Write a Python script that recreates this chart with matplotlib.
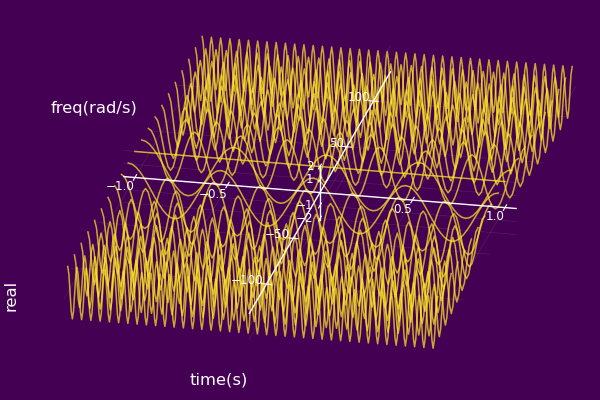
import matplotlib
matplotlib.use("Agg")
import matplotlib.pyplot as plt
import numpy as np
from mpl_toolkits.mplot3d import proj3d

# values: every wave swings +-2, ends on a peak at t=+-1,
# and its number of periods was counted. Lists run from t=0 to t=1, the left half mirrors them.
freqs = [-125.66, -113.10, -100.53, -87.96, -75.40, -62.83, -50.27, -37.70, -25.13, -12.57, 0,
         12.57, 25.13, 37.70, 50.27, 62.83, 75.40, 87.96, 100.53, 113.10, 125.66]

wave_0 = [2, 2]

wave_13 = [
    2, 1.93, 1.73, 1.41, 1, .52, 0, -.52, -1, -1.41, -1.73, -1.93, -2, -1.93, -1.73, -1.41, -1, -.52, 0, .52, 1, 1.41, 1.73, 1.93,
    2, 1.93, 1.73, 1.41, 1, .52, 0, -.52, -1, -1.41, -1.73, -1.93, -2, -1.93, -1.73, -1.41, -1, -.52, 0, .52, 1, 1.41, 1.73, 1.93,
    2]

wave_25 = [
    2, 1.85, 1.41, .77, 0, -.77, -1.41, -1.85, -2, -1.85, -1.41, -.77, 0, .77, 1.41, 1.85,
    2, 1.85, 1.41, .77, 0, -.77, -1.41, -1.85, -2, -1.85, -1.41, -.77, 0, .77, 1.41, 1.85,
    2, 1.85, 1.41, .77, 0, -.77, -1.41, -1.85, -2, -1.85, -1.41, -.77, 0, .77, 1.41, 1.85,
    2, 1.85, 1.41, .77, 0, -.77, -1.41, -1.85, -2, -1.85, -1.41, -.77, 0, .77, 1.41, 1.85,
    2]

wave_38 = [
    2, 1.73, 1, 0, -1, -1.73, -2, -1.73, -1, 0, 1, 1.73,
    2, 1.73, 1, 0, -1, -1.73, -2, -1.73, -1, 0, 1, 1.73,
    2, 1.73, 1, 0, -1, -1.73, -2, -1.73, -1, 0, 1, 1.73,
    2, 1.73, 1, 0, -1, -1.73, -2, -1.73, -1, 0, 1, 1.73,
    2, 1.73, 1, 0, -1, -1.73, -2, -1.73, -1, 0, 1, 1.73,
    2, 1.73, 1, 0, -1, -1.73, -2, -1.73, -1, 0, 1, 1.73,
    2]

wave_50 = [
    2, 1.62, .62, -.62, -1.62, -2, -1.62, -.62, .62, 1.62,
    2, 1.62, .62, -.62, -1.62, -2, -1.62, -.62, .62, 1.62,
    2, 1.62, .62, -.62, -1.62, -2, -1.62, -.62, .62, 1.62,
    2, 1.62, .62, -.62, -1.62, -2, -1.62, -.62, .62, 1.62,
    2, 1.62, .62, -.62, -1.62, -2, -1.62, -.62, .62, 1.62,
    2, 1.62, .62, -.62, -1.62, -2, -1.62, -.62, .62, 1.62,
    2, 1.62, .62, -.62, -1.62, -2, -1.62, -.62, .62, 1.62,
    2, 1.62, .62, -.62, -1.62, -2, -1.62, -.62, .62, 1.62,
    2]

wave_63 = [
    2, 1.41, 0, -1.41, -2, -1.41, 0, 1.41,
    2, 1.41, 0, -1.41, -2, -1.41, 0, 1.41,
    2, 1.41, 0, -1.41, -2, -1.41, 0, 1.41,
    2, 1.41, 0, -1.41, -2, -1.41, 0, 1.41,
    2, 1.41, 0, -1.41, -2, -1.41, 0, 1.41,
    2, 1.41, 0, -1.41, -2, -1.41, 0, 1.41,
    2, 1.41, 0, -1.41, -2, -1.41, 0, 1.41,
    2, 1.41, 0, -1.41, -2, -1.41, 0, 1.41,
    2, 1.41, 0, -1.41, -2, -1.41, 0, 1.41,
    2, 1.41, 0, -1.41, -2, -1.41, 0, 1.41,
    2]

wave_75 = [
    2, 1.41, 0, -1.41, -2, -1.41, 0, 1.41,
    2, 1.41, 0, -1.41, -2, -1.41, 0, 1.41,
    2, 1.41, 0, -1.41, -2, -1.41, 0, 1.41,
    2, 1.41, 0, -1.41, -2, -1.41, 0, 1.41,
    2, 1.41, 0, -1.41, -2, -1.41, 0, 1.41,
    2, 1.41, 0, -1.41, -2, -1.41, 0, 1.41,
    2, 1.41, 0, -1.41, -2, -1.41, 0, 1.41,
    2, 1.41, 0, -1.41, -2, -1.41, 0, 1.41,
    2, 1.41, 0, -1.41, -2, -1.41, 0, 1.41,
    2, 1.41, 0, -1.41, -2, -1.41, 0, 1.41,
    2, 1.41, 0, -1.41, -2, -1.41, 0, 1.41,
    2, 1.41, 0, -1.41, -2, -1.41, 0, 1.41,
    2]

wave_88 = [
    2, 1.41, 0, -1.41, -2, -1.41, 0, 1.41,
    2, 1.41, 0, -1.41, -2, -1.41, 0, 1.41,
    2, 1.41, 0, -1.41, -2, -1.41, 0, 1.41,
    2, 1.41, 0, -1.41, -2, -1.41, 0, 1.41,
    2, 1.41, 0, -1.41, -2, -1.41, 0, 1.41,
    2, 1.41, 0, -1.41, -2, -1.41, 0, 1.41,
    2, 1.41, 0, -1.41, -2, -1.41, 0, 1.41,
    2, 1.41, 0, -1.41, -2, -1.41, 0, 1.41,
    2, 1.41, 0, -1.41, -2, -1.41, 0, 1.41,
    2, 1.41, 0, -1.41, -2, -1.41, 0, 1.41,
    2, 1.41, 0, -1.41, -2, -1.41, 0, 1.41,
    2, 1.41, 0, -1.41, -2, -1.41, 0, 1.41,
    2, 1.41, 0, -1.41, -2, -1.41, 0, 1.41,
    2, 1.41, 0, -1.41, -2, -1.41, 0, 1.41,
    2]

wave_101 = [
    2, 1.41, 0, -1.41, -2, -1.41, 0, 1.41,
    2, 1.41, 0, -1.41, -2, -1.41, 0, 1.41,
    2, 1.41, 0, -1.41, -2, -1.41, 0, 1.41,
    2, 1.41, 0, -1.41, -2, -1.41, 0, 1.41,
    2, 1.41, 0, -1.41, -2, -1.41, 0, 1.41,
    2, 1.41, 0, -1.41, -2, -1.41, 0, 1.41,
    2, 1.41, 0, -1.41, -2, -1.41, 0, 1.41,
    2, 1.41, 0, -1.41, -2, -1.41, 0, 1.41,
    2, 1.41, 0, -1.41, -2, -1.41, 0, 1.41,
    2, 1.41, 0, -1.41, -2, -1.41, 0, 1.41,
    2, 1.41, 0, -1.41, -2, -1.41, 0, 1.41,
    2, 1.41, 0, -1.41, -2, -1.41, 0, 1.41,
    2, 1.41, 0, -1.41, -2, -1.41, 0, 1.41,
    2, 1.41, 0, -1.41, -2, -1.41, 0, 1.41,
    2, 1.41, 0, -1.41, -2, -1.41, 0, 1.41,
    2, 1.41, 0, -1.41, -2, -1.41, 0, 1.41,
    2]

wave_113 = [
    2, 1.41, 0, -1.41, -2, -1.41, 0, 1.41,
    2, 1.41, 0, -1.41, -2, -1.41, 0, 1.41,
    2, 1.41, 0, -1.41, -2, -1.41, 0, 1.41,
    2, 1.41, 0, -1.41, -2, -1.41, 0, 1.41,
    2, 1.41, 0, -1.41, -2, -1.41, 0, 1.41,
    2, 1.41, 0, -1.41, -2, -1.41, 0, 1.41,
    2, 1.41, 0, -1.41, -2, -1.41, 0, 1.41,
    2, 1.41, 0, -1.41, -2, -1.41, 0, 1.41,
    2, 1.41, 0, -1.41, -2, -1.41, 0, 1.41,
    2, 1.41, 0, -1.41, -2, -1.41, 0, 1.41,
    2, 1.41, 0, -1.41, -2, -1.41, 0, 1.41,
    2, 1.41, 0, -1.41, -2, -1.41, 0, 1.41,
    2, 1.41, 0, -1.41, -2, -1.41, 0, 1.41,
    2, 1.41, 0, -1.41, -2, -1.41, 0, 1.41,
    2, 1.41, 0, -1.41, -2, -1.41, 0, 1.41,
    2, 1.41, 0, -1.41, -2, -1.41, 0, 1.41,
    2, 1.41, 0, -1.41, -2, -1.41, 0, 1.41,
    2, 1.41, 0, -1.41, -2, -1.41, 0, 1.41,
    2]

wave_126 = [
    2, 1.41, 0, -1.41, -2, -1.41, 0, 1.41,
    2, 1.41, 0, -1.41, -2, -1.41, 0, 1.41,
    2, 1.41, 0, -1.41, -2, -1.41, 0, 1.41,
    2, 1.41, 0, -1.41, -2, -1.41, 0, 1.41,
    2, 1.41, 0, -1.41, -2, -1.41, 0, 1.41,
    2, 1.41, 0, -1.41, -2, -1.41, 0, 1.41,
    2, 1.41, 0, -1.41, -2, -1.41, 0, 1.41,
    2, 1.41, 0, -1.41, -2, -1.41, 0, 1.41,
    2, 1.41, 0, -1.41, -2, -1.41, 0, 1.41,
    2, 1.41, 0, -1.41, -2, -1.41, 0, 1.41,
    2, 1.41, 0, -1.41, -2, -1.41, 0, 1.41,
    2, 1.41, 0, -1.41, -2, -1.41, 0, 1.41,
    2, 1.41, 0, -1.41, -2, -1.41, 0, 1.41,
    2, 1.41, 0, -1.41, -2, -1.41, 0, 1.41,
    2, 1.41, 0, -1.41, -2, -1.41, 0, 1.41,
    2, 1.41, 0, -1.41, -2, -1.41, 0, 1.41,
    2, 1.41, 0, -1.41, -2, -1.41, 0, 1.41,
    2, 1.41, 0, -1.41, -2, -1.41, 0, 1.41,
    2, 1.41, 0, -1.41, -2, -1.41, 0, 1.41,
    2, 1.41, 0, -1.41, -2, -1.41, 0, 1.41,
    2]

half_waves = [wave_126, wave_113, wave_101, wave_88, wave_75, wave_63, wave_50, wave_38, wave_25, wave_13, wave_0,
              wave_13, wave_25, wave_38, wave_50, wave_63, wave_75, wave_88, wave_101, wave_113, wave_126]

time_ticks = [-1.0, -0.5, 0.5, 1.0]
time_labels = ["\u22121.0", "\u22120.5", "0.5", "1.0"]
freq_ticks = [-100, -50, 50, 100]
freq_labels = ["\u2212100", "\u221250", "50", "100"]
real_ticks = [-2, -1, 1, 2]
real_labels = ["\u22122", "\u22121", "1", "2"]

BG = "#440154"
LINE = "#fde725"
TLIM = 1.06
FLIM = 132
ZLIM = 2.1

fig = plt.figure(figsize=(6, 4), dpi=100, facecolor=BG)
# big square axes, the extra offset is what mplot3d adds to the centre
ax = fig.add_axes([(310.5 - 350) / 600, (198 - 350) / 400, 700 / 600, 700 / 400], projection="3d")
ax.set_proj_type("ortho")
ax.view_init(elev=21.9, azim=-77.7)
ax.set_xlim(-TLIM, TLIM)
ax.set_ylim(-FLIM, FLIM)
ax.set_zlim(-ZLIM, ZLIM)
ax.set_axis_off()
ax.patch.set_alpha(0)
ax.computed_zorder = False

box = (400.7, 661.8, 58.8)
ax.set_box_aspect(box)
fig.canvas.draw()
p0 = ax.transData.transform(proj3d.proj_transform(-1, 0, 0, ax.get_proj())[:2])
p1 = ax.transData.transform(proj3d.proj_transform(1, 0, 0, ax.get_proj())[:2])
ax.set_box_aspect(box, zoom=370 / (p1[0] - p0[0]))
M = ax.get_proj()

# faint grid
for t in time_ticks + [0]:
    ax.plot([t, t], [-FLIM, FLIM], [0, 0], color="white", lw=0.5, alpha=0.1, zorder=1, clip_on=False)
for f in freq_ticks + [0]:
    ax.plot([-TLIM, TLIM], [f, f], [0, 0], color="white", lw=0.5, alpha=0.1, zorder=1, clip_on=False)
for z in real_ticks:
    ax.plot([-TLIM, TLIM], [0, 0], [z, z], color="white", lw=0.5, alpha=0.1, zorder=1, clip_on=False)
    ax.plot([0, 0], [-FLIM, FLIM], [z, z], color="white", lw=0.5, alpha=0.1, zorder=1, clip_on=False)

for f, half in zip(freqs, half_waves):
    half = np.array(half)
    vals = np.concatenate([half[::-1], half[1:]])
    t = np.linspace(-1, 1, len(vals))
    ax.plot(t, np.full(len(vals), f), vals, color=LINE, lw=1.1, alpha=0.72, zorder=2, clip_on=False)

# axes through the origin
ax.plot([-TLIM, TLIM], [0, 0], [0, 0], color="white", lw=1.0, zorder=3, clip_on=False)
ax.plot([0, 0], [-FLIM, FLIM], [0, 0], color="white", lw=1.0, zorder=3, clip_on=False)
ax.plot([0, 0], [0, 0], [-ZLIM, ZLIM], color="white", lw=1.0, zorder=3, clip_on=False)


def tick_label(x, y, z, s, dx, dy):
    pos = proj3d.proj_transform(x, y, z, M)[:2]
    ax.annotate(s, pos, xytext=(dx, dy), textcoords="offset pixels", ha="right", va="center",
                color="white", fontsize=8.6, zorder=4, annotation_clip=False)


for t, s in zip(time_ticks, time_labels):
    ax.plot([t, t], [-3, 3], [0, 0], color="white", lw=0.8, zorder=3, clip_on=False)
    tick_label(t, 0, 0, s, 0, -9)
for f, s in zip(freq_ticks, freq_labels):
    ax.plot([-0.025, 0.025], [f, f], [0, 0], color="white", lw=0.8, zorder=3, clip_on=False)
    tick_label(0, f, 0, s, -3, 3.5)
for z, s in zip(real_ticks, real_labels):
    ax.plot([0, 0], [-2.5, 2.5], [z, z], color="white", lw=0.8, zorder=3, clip_on=False)
    tick_label(0, 0, z, s, -6.5, 0)

fig.text(218.5 / 600, 1 - 380 / 400, "time(s)", color="white", fontsize=11.8, ha="center", va="center")
fig.text(94 / 600, 1 - 109 / 400, "freq(rad/s)", color="white", fontsize=11.8, ha="center", va="center")
fig.text(11 / 600, 1 - 295 / 400, "real", color="white", fontsize=11.8, ha="center", va="center", rotation=90)

fig.savefig("out.png", dpi=100, facecolor=BG)
